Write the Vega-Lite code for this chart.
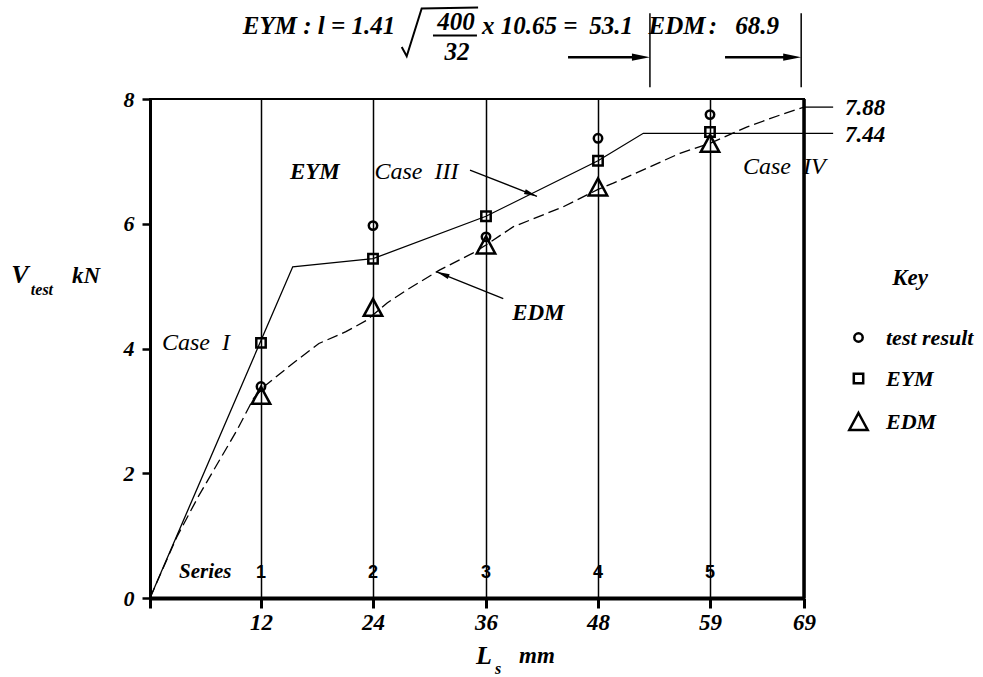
{
  "$schema": "https://vega.github.io/schema/vega-lite/v6.json",
  "width": 654,
  "height": 499,
  "autosize": {"type": "none"},
  "padding": {"left": 150, "top": 99, "right": 179, "bottom": 79},
  "background": "white",
  "config": {"view": {"stroke": "black", "strokeWidth": 2}},
  "datasets": {
    "eym": [
      {"x": 0, "y": 0}, {"x": 15.4, "y": 5.31}, {"x": 24, "y": 5.44}, {"x": 36, "y": 6.12},
      {"x": 48, "y": 7.01}, {"x": 52.45, "y": 7.45}, {"x": 72.1, "y": 7.45}
    ],
    "edm": [
      {"x": 0, "y": 0}, {"x": 2.9, "y": 0.98}, {"x": 5.2, "y": 1.62}, {"x": 9.4, "y": 2.69},
      {"x": 11.2, "y": 3.2}, {"x": 12.5, "y": 3.41}, {"x": 15.4, "y": 3.76}, {"x": 18.2, "y": 4.08},
      {"x": 21.1, "y": 4.27}, {"x": 23.3, "y": 4.45}, {"x": 25.5, "y": 4.73}, {"x": 27.6, "y": 4.94},
      {"x": 31.1, "y": 5.26}, {"x": 34.6, "y": 5.53}, {"x": 36, "y": 5.66}, {"x": 38.9, "y": 5.95},
      {"x": 44.25, "y": 6.27}, {"x": 48, "y": 6.55}, {"x": 49.5, "y": 6.65}, {"x": 52.8, "y": 6.89},
      {"x": 56.05, "y": 7.13}, {"x": 59, "y": 7.29}, {"x": 62.9, "y": 7.55}, {"x": 66.4, "y": 7.74},
      {"x": 69, "y": 7.87}
    ],
    "pts": [
      {"series": "test result", "x": 12, "y": 3.39}, {"series": "test result", "x": 24, "y": 5.97},
      {"series": "test result", "x": 36, "y": 5.79}, {"series": "test result", "x": 48, "y": 7.37},
      {"series": "test result", "x": 59, "y": 7.75},
      {"series": "EYM", "x": 12, "y": 4.09}, {"series": "EYM", "x": 24, "y": 5.44},
      {"series": "EYM", "x": 36, "y": 6.12}, {"series": "EYM", "x": 48, "y": 7.01},
      {"series": "EYM", "x": 59, "y": 7.47},
      {"series": "EDM", "x": 12, "y": 3.25}, {"series": "EDM", "x": 24, "y": 4.66},
      {"series": "EDM", "x": 36, "y": 5.66}, {"series": "EDM", "x": 48, "y": 6.59},
      {"series": "EDM", "x": 59, "y": 7.29}
    ],
    "border": [{"x": 69, "y": 0, "x2": 69, "y2": 8}],
    "thin": [
      {"x": 69, "y": 7.87, "x2": 72.1, "y2": 7.87},
      {"x": 34.3, "y": 6.86, "x2": 41.46, "y2": 6.44},
      {"x": 37.85, "y": 4.80, "x2": 30.76, "y2": 5.23}
    ],
    "vert": [
      {"x": 53.1, "y": 8.19, "x2": 53.1, "y2": 9.375},
      {"x": 68.7, "y": 8.19, "x2": 68.7, "y2": 9.375}
    ],
    "bold": [
      {"x": 44.79, "y": 8.67, "x2": 52.0, "y2": 8.67},
      {"x": 60.6, "y": 8.67, "x2": 67.8, "y2": 8.67}
    ],
    "frac": [{"x": 30.37, "y": 9.02, "x2": 35.04, "y2": 9.02}],
    "sqrt": [
      {"o": 1, "x": 27.05, "y": 8.835}, {"o": 2, "x": 27.58, "y": 8.686},
      {"o": 3, "x": 29.17, "y": 9.45}, {"o": 4, "x": 35.16, "y": 9.466}
    ],
    "headsBig": [{"x": 53.1, "y": 8.67, "dir": 0}, {"x": 68.7, "y": 8.67, "dir": 0}],
    "headsSmall": [{"x": 41.46, "y": 6.44, "dir": 21.2}, {"x": 30.76, "y": 5.23, "dir": 201.8}],
    "tBI": [
      {"x": 15.1, "y": 6.83, "t": "EYM"}, {"x": 38.8, "y": 4.57, "t": "EDM"},
      {"x": 73.36, "y": 7.86, "t": "7.88"}, {"x": 73.36, "y": 7.42, "t": "7.44"}
    ],
    "tSeries": [{"x": 3.14, "y": 0.42, "t": "Series"}],
    "tI": [
      {"x": 1.3, "y": 4.09, "t": "Case\u00a0\u00a0I"}, {"x": 24.15, "y": 6.83, "t": "Case\u00a0\u00a0III"},
      {"x": 62.5, "y": 6.91, "t": "Case\u00a0\u00a0IV"}
    ],
    "digits": [
      {"x": 12, "y": 0.4, "t": "1"}, {"x": 24, "y": 0.4, "t": "2"}, {"x": 36, "y": 0.4, "t": "3"},
      {"x": 48, "y": 0.4, "t": "4"}, {"x": 59, "y": 0.4, "t": "5"}
    ],
    "title": [
      {"x": 18.21, "y": 9.17, "t": "EYM : l = 1.41"}, {"x": 40.7, "y": 9.17, "t": "x 10.65 ="},
      {"x": 49.28, "y": 9.17, "t": "53.1"}, {"x": 55.76, "y": 9.17, "t": "EDM"},
      {"x": 59.3, "y": 9.17, "t": ":"}, {"x": 64.0, "y": 9.17, "t": "68.9"},
      {"x": 32.81, "y": 9.23, "t": "400"}, {"x": 32.92, "y": 8.75, "t": "32"}
    ],
    "axBig": [{"x": -14.05, "y": 5.18, "t": "V"}, {"x": 35.79, "y": -0.93, "t": "L"}],
    "axMid": [{"x": -6.92, "y": 5.16, "t": "kN"}, {"x": 41.46, "y": -0.93, "t": "mm"}],
    "axSub": [{"x": -11.68, "y": 4.94, "t": "test"}, {"x": 37.29, "y": -1.14, "t": "s"}]
  },
  "layer": [
    {
      "data": {"name": "eym"},
      "mark": {"type": "line", "color": "black", "strokeWidth": 1.3},
      "encoding": {
        "x": {
          "field": "x", "type": "quantitative",
          "scale": {"domain": [0, 12, 24, 36, 48, 59, 69], "range": [0, 111, 223, 336, 448, 560, 654], "nice": false, "zero": false},
          "axis": {
            "values": [0, 12, 24, 36, 48, 59, 69], "format": "d",
            "labelExpr": "datum.value == 0 ? '' : datum.label",
            "grid": true, "gridColor": "black", "gridWidth": 1.5, "gridOpacity": 1,
            "domainColor": "black", "domainWidth": 4, "tickColor": "black", "tickWidth": 3, "tickSize": 10,
            "labelFont": "Liberation Serif", "labelFontSize": 23, "labelFontStyle": "italic", "labelFontWeight": "bold",
            "labelColor": "black", "labelPadding": 3, "labelFlush": false, "labelOverlap": false, "title": null
          }
        },
        "y": {
          "field": "y", "type": "quantitative",
          "scale": {"domain": [0, 8], "nice": false, "zero": false},
          "axis": {
            "values": [0, 2, 4, 6, 8], "format": "d", "grid": false,
            "domainColor": "black", "domainWidth": 3, "tickColor": "black", "tickWidth": 2.5, "tickSize": 8,
            "labelFont": "Liberation Serif", "labelFontSize": 22, "labelFontStyle": "italic", "labelFontWeight": "bold",
            "labelColor": "black", "labelPadding": 8, "labelOverlap": false, "title": null
          }
        }
      }
    },
    {
      "data": {"name": "edm"},
      "mark": {"type": "line", "color": "black", "strokeWidth": 1.3, "strokeDash": [11, 5]},
      "encoding": {"x": {"field": "x", "type": "quantitative"}, "y": {"field": "y", "type": "quantitative"}}
    },
    {
      "data": {"name": "border"},
      "mark": {"type": "rule", "color": "black", "strokeWidth": 3.5},
      "encoding": {"x": {"field": "x", "type": "quantitative"}, "y": {"field": "y", "type": "quantitative"}, "x2": {"field": "x2"}, "y2": {"field": "y2"}}
    },
    {
      "data": {"name": "thin"},
      "mark": {"type": "rule", "color": "black", "strokeWidth": 1.3},
      "encoding": {"x": {"field": "x", "type": "quantitative"}, "y": {"field": "y", "type": "quantitative"}, "x2": {"field": "x2"}, "y2": {"field": "y2"}}
    },
    {
      "data": {"name": "vert"},
      "mark": {"type": "rule", "color": "black", "strokeWidth": 1.5},
      "encoding": {"x": {"field": "x", "type": "quantitative"}, "y": {"field": "y", "type": "quantitative"}, "x2": {"field": "x2"}, "y2": {"field": "y2"}}
    },
    {
      "data": {"name": "bold"},
      "mark": {"type": "rule", "color": "black", "strokeWidth": 2.5},
      "encoding": {"x": {"field": "x", "type": "quantitative"}, "y": {"field": "y", "type": "quantitative"}, "x2": {"field": "x2"}, "y2": {"field": "y2"}}
    },
    {
      "data": {"name": "frac"},
      "mark": {"type": "rule", "color": "black", "strokeWidth": 2},
      "encoding": {"x": {"field": "x", "type": "quantitative"}, "y": {"field": "y", "type": "quantitative"}, "x2": {"field": "x2"}, "y2": {"field": "y2"}}
    },
    {
      "data": {"name": "sqrt"},
      "mark": {"type": "line", "color": "black", "strokeWidth": 2},
      "encoding": {"x": {"field": "x", "type": "quantitative"}, "y": {"field": "y", "type": "quantitative"}, "order": {"field": "o"}}
    },
    {
      "data": {"name": "headsBig"},
      "mark": {"type": "point", "shape": "M0,0 L-2,-0.4 L-2,0.4 Z", "filled": true, "color": "black", "opacity": 1, "size": 324},
      "encoding": {"x": {"field": "x", "type": "quantitative"}, "y": {"field": "y", "type": "quantitative"}, "angle": {"field": "dir", "type": "quantitative", "scale": null}}
    },
    {
      "data": {"name": "headsSmall"},
      "mark": {"type": "point", "shape": "M0,0 L-2,-0.4 L-2,0.4 Z", "filled": true, "color": "black", "opacity": 1, "size": 169},
      "encoding": {"x": {"field": "x", "type": "quantitative"}, "y": {"field": "y", "type": "quantitative"}, "angle": {"field": "dir", "type": "quantitative", "scale": null}}
    },
    {
      "data": {"name": "pts"},
      "mark": {"type": "point", "filled": false, "stroke": "black", "strokeWidth": 2.5, "opacity": 1, "size": 400},
      "encoding": {
        "x": {"field": "x", "type": "quantitative"},
        "y": {"field": "y", "type": "quantitative"},
        "shape": {
          "field": "series", "type": "nominal",
          "scale": {
            "domain": ["test result", "EYM", "EDM"],
            "range": [
              "M-0.42,0 A0.42,0.42 0 1 0 0.42,0 A0.42,0.42 0 1 0 -0.42,0 Z",
              "M-0.47,-0.47 L0.47,-0.47 L0.47,0.47 L-0.47,0.47 Z",
              "M0,-0.85 L0.92,0.85 L-0.92,0.85 Z"
            ]
          },
          "legend": {
            "title": "Key", "orient": "none", "legendX": 697, "legendY": 168,
            "symbolSize": 400,
            "titleFont": "Liberation Serif", "titleFontSize": 23, "titleFontStyle": "italic", "titleFontWeight": "bold",
            "titleColor": "black", "titleAnchor": "middle", "titlePadding": 36,
            "labelFont": "Liberation Serif", "labelFontSize": 22, "labelFontStyle": "italic", "labelFontWeight": "bold",
            "labelColor": "black", "labelOffset": 16, "rowPadding": 18,
            "symbolStrokeColor": "black", "symbolStrokeWidth": 2.5, "symbolFillColor": "white", "symbolOpacity": 1
          }
        }
      }
    },
    {
      "data": {"name": "tBI"},
      "mark": {"type": "text", "font": "Liberation Serif", "fontSize": 23, "fontStyle": "italic", "fontWeight": "bold", "color": "black", "align": "left", "baseline": "middle"},
      "encoding": {"x": {"field": "x", "type": "quantitative"}, "y": {"field": "y", "type": "quantitative"}, "text": {"field": "t", "type": "nominal"}}
    },
    {
      "data": {"name": "tSeries"},
      "mark": {"type": "text", "font": "Liberation Serif", "fontSize": 21, "fontStyle": "italic", "fontWeight": "bold", "color": "black", "align": "left", "baseline": "middle"},
      "encoding": {"x": {"field": "x", "type": "quantitative"}, "y": {"field": "y", "type": "quantitative"}, "text": {"field": "t", "type": "nominal"}}
    },
    {
      "data": {"name": "tI"},
      "mark": {"type": "text", "font": "Liberation Serif", "fontSize": 24, "fontStyle": "italic", "color": "black", "align": "left", "baseline": "middle"},
      "encoding": {"x": {"field": "x", "type": "quantitative"}, "y": {"field": "y", "type": "quantitative"}, "text": {"field": "t", "type": "nominal"}}
    },
    {
      "data": {"name": "digits"},
      "mark": {"type": "text", "font": "Liberation Sans", "fontSize": 18, "fontWeight": "bold", "color": "black", "align": "center", "baseline": "middle"},
      "encoding": {"x": {"field": "x", "type": "quantitative"}, "y": {"field": "y", "type": "quantitative"}, "text": {"field": "t", "type": "nominal"}}
    },
    {
      "data": {"name": "title"},
      "mark": {"type": "text", "font": "Liberation Serif", "fontSize": 25, "fontStyle": "italic", "fontWeight": "bold", "color": "black", "align": "center", "baseline": "middle"},
      "encoding": {"x": {"field": "x", "type": "quantitative"}, "y": {"field": "y", "type": "quantitative"}, "text": {"field": "t", "type": "nominal"}}
    },
    {
      "data": {"name": "axBig"},
      "mark": {"type": "text", "font": "Liberation Serif", "fontSize": 26, "fontStyle": "italic", "fontWeight": "bold", "color": "black", "align": "center", "baseline": "middle"},
      "encoding": {"x": {"field": "x", "type": "quantitative"}, "y": {"field": "y", "type": "quantitative"}, "text": {"field": "t", "type": "nominal"}}
    },
    {
      "data": {"name": "axMid"},
      "mark": {"type": "text", "font": "Liberation Serif", "fontSize": 23, "fontStyle": "italic", "fontWeight": "bold", "color": "black", "align": "center", "baseline": "middle"},
      "encoding": {"x": {"field": "x", "type": "quantitative"}, "y": {"field": "y", "type": "quantitative"}, "text": {"field": "t", "type": "nominal"}}
    },
    {
      "data": {"name": "axSub"},
      "mark": {"type": "text", "font": "Liberation Serif", "fontSize": 16, "fontStyle": "italic", "fontWeight": "bold", "color": "black", "align": "center", "baseline": "middle"},
      "encoding": {"x": {"field": "x", "type": "quantitative"}, "y": {"field": "y", "type": "quantitative"}, "text": {"field": "t", "type": "nominal"}}
    }
  ]
}
